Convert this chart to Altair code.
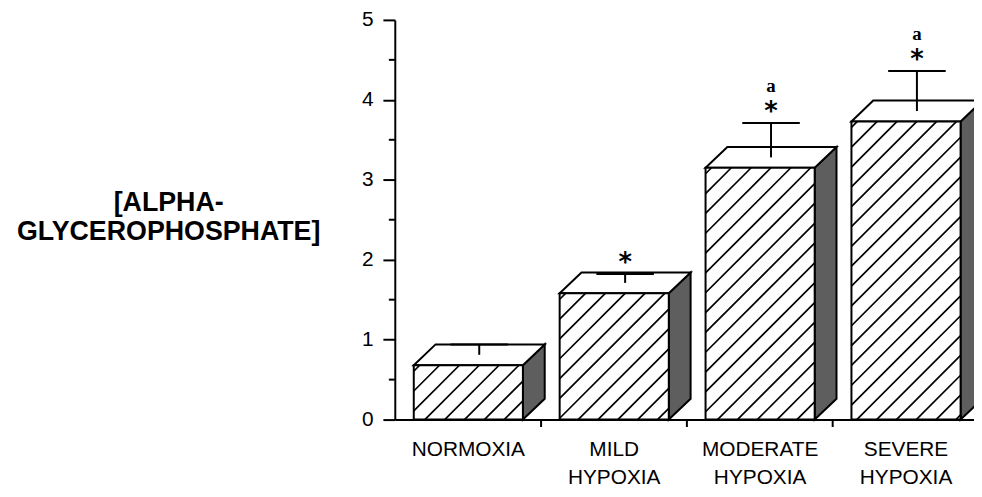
import altair as alt
import pandas as pd

# ---- data ----
categories = ["NORMOXIA", "MILD\nHYPOXIA", "MODERATE\nHYPOXIA", "SEVERE\nHYPOXIA"]
means = [0.68, 1.58, 3.15, 3.73]
sems = [0.13, 0.11, 0.43, 0.50]
star_flags = [False, True, True, True]
a_flags = [False, False, True, True]
y_ticks = [0, 1, 2, 3, 4, 5]
y_minor = [0.5, 1.5, 2.5, 3.5, 4.5]
x_ticks = [1, 2, 3]
y_title = "[ALPHA-\nGLYCEROPHOSPHATE]"

# ---- layout / style constants ----
W, H = 584, 403
X_MAX = 3.97
Y_MAX = 5
PX = W / X_MAX
PY = H / Y_MAX
DX = 22 / PX          # depth offset in x units
DY = 21 / PY          # depth offset in y units
FRONT_OFF = 0.13
FRONT_W = 0.748
HATCH = 20            # px spacing of hatch lines
CAP_HALF = 29 / PX
FONT = "Liberation Sans"

xs = alt.Scale(domain=[0, X_MAX], nice=False, zero=False)
ys = alt.Scale(domain=[0, Y_MAX], nice=False, zero=False)
x_axis = alt.Axis(values=x_ticks, labels=False, tickSize=7, tickWidth=2,
                  domainWidth=2, domainColor="black", tickColor="black",
                  grid=False, title=None)
y_axis = alt.Axis(values=y_ticks, tickSize=12, tickWidth=2, domainWidth=2,
                  domainColor="black", tickColor="black", labelPadding=10,
                  labelFontSize=21, labelFont=FONT, labelColor="black",
                  grid=False, title=None)


def X(f):
    return alt.X(f"{f}:Q", scale=xs, axis=x_axis)


def Y(f):
    return alt.Y(f"{f}:Q", scale=ys, axis=y_axis)


front, side, top, hatch, err, caps, notes, labels = [], [], [], [], [], [], [], []
for i, (cat, v, s) in enumerate(zip(categories, means, sems)):
    x0 = i + FRONT_OFF
    x1 = x0 + FRONT_W
    front.append({"c": i, "x": x0, "x2": x1, "y": 0, "y2": v})
    side.append({"c": i, "x": x1, "y": 0, "y2": v})
    side.append({"c": i, "x": x1 + DX, "y": DY, "y2": v + DY})
    top.append({"c": i, "y": v, "x": x0, "x2": x1})
    top.append({"c": i, "y": v + DY, "x": x0 + DX, "x2": x1 + DX})
    # hatch lines (45 degrees in pixel space) clipped to the front face
    X0, X1, Y0, Y1 = x0 * PX, x1 * PX, 0.0, v * PY
    c = X0 - Y1 + 6
    while c < X1:
        sx = max(X0, c + Y0)
        ex = min(X1, c + Y1)
        if ex > sx + 1:
            hatch.append({"x": sx / PX, "y": (sx - c) / PY,
                          "x2": ex / PX, "y2": (ex - c) / PY})
        c += HATCH
    exx = x0 + FRONT_W / 2 + DX / 2
    base = v + DY / 2
    cap = base + s
    err.append({"x": exx, "y": base, "y2": cap})
    caps.append({"x": exx - CAP_HALF, "x2": exx + CAP_HALF, "y": cap})
    if star_flags[i]:
        notes.append({"x": exx, "y": cap, "t": "*", "k": "star"})
    if a_flags[i]:
        notes.append({"x": exx, "y": cap, "t": "a", "k": "a"})
    labels.append({"x": i + FRONT_OFF + FRONT_W / 2, "t": cat})

df_front = pd.DataFrame(front)
df_side = pd.DataFrame(side)
df_top = pd.DataFrame(top)
df_hatch = pd.DataFrame(hatch)
df_err = pd.DataFrame(err)
df_caps = pd.DataFrame(caps)
df_notes = pd.DataFrame(notes)
df_labels = pd.DataFrame(labels)
df_minor = pd.DataFrame({"m": y_minor})
df_title = pd.DataFrame({"t": [y_title]})

side_l = alt.Chart(df_side).mark_area(
    orient="vertical", fill="#5e5e5e", stroke="black", strokeWidth=2,
    interpolate="linear"
).encode(x=X("x"), y=Y("y"), y2="y2", detail="c:N")

top_l = alt.Chart(df_top).mark_area(
    orient="horizontal", fill="white", stroke="black", strokeWidth=2,
    interpolate="linear"
).encode(y=Y("y"), x=X("x"), x2="x2", detail="c:N")

front_l = alt.Chart(df_front).mark_rect(
    fill="white", stroke="black", strokeWidth=2
).encode(x=X("x"), x2="x2", y=Y("y"), y2="y2")

hatch_l = alt.Chart(df_hatch).mark_rule(
    color="black", strokeWidth=1.7
).encode(x=X("x"), x2="x2", y=Y("y"), y2="y2")

err_l = alt.Chart(df_err).mark_rule(color="black", strokeWidth=2).encode(
    x=X("x"), y=Y("y"), y2="y2")

cap_l = alt.Chart(df_caps).mark_rule(color="black", strokeWidth=2).encode(
    x=X("x"), x2="x2", y=Y("y"))

star_l = alt.Chart(df_notes).transform_filter("datum.k == 'star'").mark_text(
    font="DejaVu Sans", fontSize=26, fontWeight="bold", baseline="alphabetic",
    dy=-3, color="black"
).encode(x=X("x"), y=Y("y"), text="t:N")

a_l = alt.Chart(df_notes).transform_filter("datum.k == 'a'").mark_text(
    font="Liberation Serif", fontSize=19, fontWeight="bold", baseline="alphabetic",
    dy=-31, color="black"
).encode(x=X("x"), y=Y("y"), text="t:N")

label_l = alt.Chart(df_labels).mark_text(
    font=FONT, fontSize=21, baseline="middle", align="center", lineBreak="\n",
    lineHeight=28, color="black"
).encode(x=X("x"), y=alt.value(H + 31), text="t:N")

minor_l = alt.Chart(df_minor).mark_rule(color="black", strokeWidth=2).encode(
    y=Y("m"), x=alt.value(-6), x2=alt.value(0))

title_l = alt.Chart(df_title).mark_text(
    font=FONT, fontSize=27, fontWeight="bold", baseline="middle", align="center",
    lineBreak="\n", lineHeight=29, color="black"
).encode(x=alt.value(-228), y=alt.value(185), text="t:N")

chart = alt.layer(
    side_l, top_l, front_l, hatch_l, err_l, cap_l, star_l, a_l, label_l,
    minor_l, title_l
).properties(
    width=W, height=H,
    autosize=alt.AutoSizeParams(type="none"),
    padding={"left": 390, "top": 10, "right": 0, "bottom": 68},
    background="white",
).configure_view(stroke=None)

chart.save("out.html", embed_options={"renderer": "svg", "actions": False})
